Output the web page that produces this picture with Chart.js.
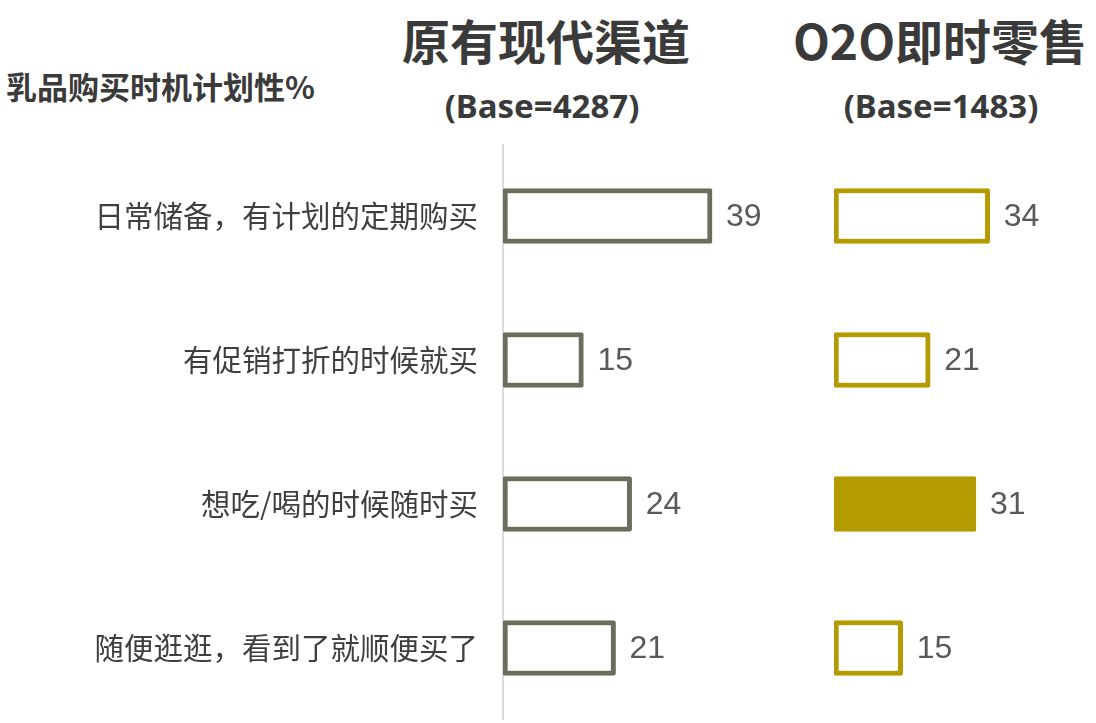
<!DOCTYPE html>
<html>
<head>
<meta charset="utf-8">
<script src="https://cdn.jsdelivr.net/npm/chart.js@4"></script>
<style>
    body { margin: 0; background: #fff; width: 1096px; height: 723px; position: relative; overflow: hidden; font-family: "Noto Sans CJK SC", "Noto Sans", sans-serif; }
    .txt { position: absolute; color: #3a3a3a; font-weight: bold; white-space: nowrap; }
    .head { font-size: 48px; top: 4px; transform: translateX(-50%); }
    .base { font-size: 33px; top: 83px; transform: translateX(-50%); font-family: "Noto Sans", sans-serif; }
    canvas { position: absolute; }
    #leftChart { left: 0; top: 144px; }
    #rightChart { left: 834px; top: 144px; }
</style>
</head>
<body>
<div class="txt" style="left:6px; top:63px; font-size:31px;">乳品购买时机计划性%</div>
<div class="txt head" id="head1" style="left:546px;"></div>
<div class="txt head" id="head2" style="left:940px;"></div>
<div class="txt base" id="base1" style="left:542px;"></div>
<div class="txt base" id="base2" style="left:941px;"></div>
<canvas id="leftChart" width="790" height="576"></canvas>
<canvas id="rightChart" width="262" height="576"></canvas>
<script>
const categories = ['日常储备，有计划的定期购买', '有促销打折的时候就买', '想吃/喝的时候随时买', '随便逛逛，看到了就顺便买了'];
const modernValues = [39, 15, 24, 21];
const o2oValues = [34, 21, 31, 15];
const panelTitles = ['原有现代渠道', 'O2O即时零售'];
const panelBases = ['(Base=4287)', '(Base=1483)'];

document.getElementById('head1').textContent = panelTitles[0];
document.getElementById('head2').textContent = panelTitles[1];
document.getElementById('base1').textContent = panelBases[0];
document.getElementById('base2').textContent = panelBases[1];

const grayColor = '#6d6d5b';
const goldColor = '#b39b00';

// value labels at the end of each bar
const valueLabels = {
    id: 'valueLabels',
    afterDatasetsDraw(chart) {
        const ctx = chart.ctx;
        const meta = chart.getDatasetMeta(0);
        ctx.save();
        ctx.font = '32px "Liberation Sans", Arial, sans-serif';
        ctx.fillStyle = '#595959';
        ctx.textAlign = 'left';
        ctx.textBaseline = 'middle';
        meta.data.forEach((bar, i) => {
            ctx.fillText(chart.data.datasets[0].data[i], bar.x + 14, bar.y + 1);
        });
        ctx.restore();
    }
};

function makeChart(id, values, color, fills, showLabels, max, padRight) {
    return new Chart(document.getElementById(id), {
        type: 'bar',
        data: {
            labels: categories,
            datasets: [{
                data: values,
                backgroundColor: fills,
                borderColor: color,
                borderWidth: 5,
                borderSkipped: false,
                borderRadius: 2,
                barThickness: 55
            }]
        },
        options: {
            indexAxis: 'y',
            responsive: false,
            animation: false,
            layout: { padding: { left: 0, right: padRight, top: 0, bottom: 0 } },
            plugins: { legend: { display: false }, tooltip: { enabled: false } },
            scales: {
                x: { display: false, min: 0, max: max },
                y: {
                    display: showLabels,
                    grid: { display: false, drawTicks: false },
                    border: { display: true, color: '#d9d9d9', width: 2 },
                    ticks: {
                        padding: 25,
                        color: '#3f3f3f',
                        font: { size: 29.5, family: '"Noto Sans CJK SC", sans-serif' }
                    },
                    afterFit: scale => {
                        if (!showLabels) return;
                        scale.width = 503;
                        scale.paddingTop = 0;
                        scale.paddingBottom = 0;
                    }
                }
            }
        },
        plugins: [valueLabels]
    });
}

makeChart('leftChart', modernValues, grayColor, ['#fff', '#fff', '#fff', '#fff'], true, 50, 19);
makeChart('rightChart', o2oValues, goldColor, ['#fff', '#fff', goldColor, '#fff'], false, 50, 33);
</script>
</body>
</html>
